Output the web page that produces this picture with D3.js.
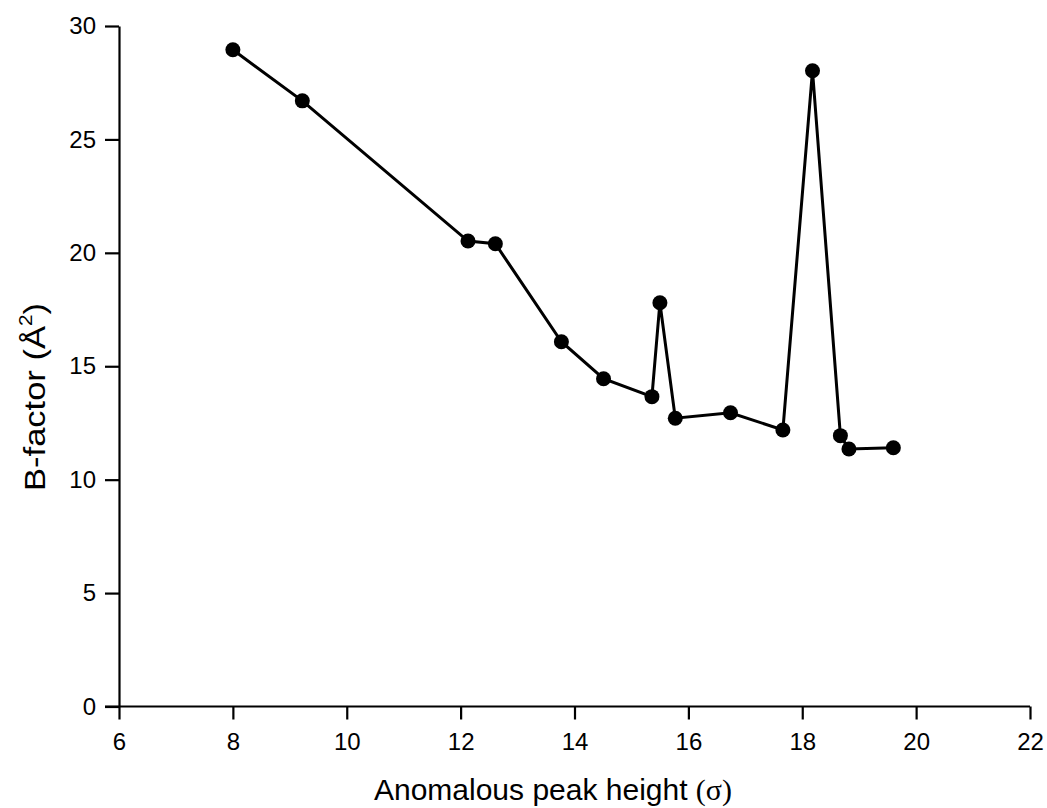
<!DOCTYPE html>
<html><head><meta charset="utf-8">
<script src="https://cdn.jsdelivr.net/npm/d3@7"></script>
<style>body{margin:0;background:#fff}</style>
</head><body>
<svg id="c" width="1047" height="808"></svg>
<script>
const peakHeight = [8.0, 9.22, 12.13, 12.61, 13.77, 14.51, 15.36, 15.50, 15.77, 16.74, 17.66, 18.18, 18.67, 18.82, 19.60];
const bFactor    = [28.95, 26.7, 20.52, 20.4, 16.08, 14.45, 13.66, 17.8, 12.71, 12.95, 12.19, 28.03, 11.94, 11.35, 11.41];
const xTicks = [6, 8, 10, 12, 14, 16, 18, 20, 22];
const yTicks = [0, 5, 10, 15, 20, 25, 30];

const svg = d3.select("#c");
const x = d3.scaleLinear().domain([6, 22]).range([119, 1030]);
const y = d3.scaleLinear().domain([0, 30]).range([706.5, 26]);
const font = "'Liberation Sans', Arial, sans-serif";

const xa = svg.append("g").attr("transform", `translate(0,${y(0)})`)
  .call(d3.axisBottom(x).tickValues(xTicks).tickSize(13).tickPadding(13).tickSizeOuter(0));
const ya = svg.append("g").attr("transform", `translate(${x(6)},0)`)
  .call(d3.axisLeft(y).tickValues(yTicks).tickSize(14).tickPadding(9).tickSizeOuter(0));
[xa, ya].forEach(a => {
  a.select(".domain").attr("stroke", "#000").attr("stroke-width", 2.2);
  a.selectAll(".tick line").attr("stroke", "#000").attr("stroke-width", 2.2);
  a.selectAll(".tick text").attr("font-family", font).attr("font-size", 24).attr("fill", "#000");
});
xa.select(".domain").attr("d", `M${x(6)-14},0H${x(22)}`);

const data = peakHeight.map((v, i) => ({x: v, y: bFactor[i]}));
svg.append("path").datum(data)
  .attr("fill", "none").attr("stroke", "#000").attr("stroke-width", 3)
  .attr("d", d3.line().x(d => x(d.x)).y(d => y(d.y)));
svg.append("g").selectAll("circle").data(data).join("circle")
  .attr("cx", d => x(d.x)).attr("cy", d => y(d.y)).attr("r", 7.5).attr("fill", "#000");

// x label
const xl = svg.append("text").attr("x", 553).attr("y", 800).attr("text-anchor", "middle")
  .attr("font-family", font).attr("font-size", 30).attr("fill", "#000");
xl.append("tspan").text("Anomalous peak height ");
xl.append("tspan").attr("font-family", "'Liberation Serif', 'Times New Roman', serif").text("(σ)");

// y label
const yl = svg.append("text").attr("transform", "translate(45,397) rotate(-90) scale(1.15,1)").attr("text-anchor", "middle")
  .attr("font-family", font).attr("font-size", 30).attr("fill", "#000");
yl.append("tspan").text("B-factor (Å");
yl.append("tspan").attr("font-size", 18).attr("dy", -13).text("2");
yl.append("tspan").attr("dy", 13).text(")");
</script>
</body></html>
